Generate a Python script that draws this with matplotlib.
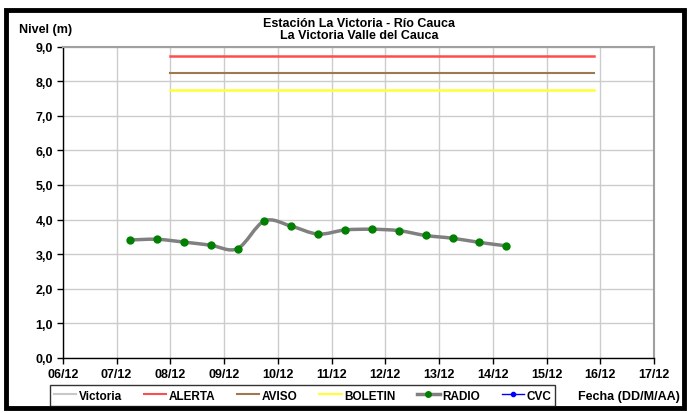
import matplotlib
matplotlib.use("Agg")
import matplotlib.pyplot as plt
import matplotlib.patches as mpatches
from matplotlib.path import Path
from matplotlib.lines import Line2D
import numpy as np

# ─────────────────────────────────────────────
# datos
# ─────────────────────────────────────────────
# dia del mes (diciembre), lecturas de radio 7am / 7pm aprox.
dias_radio = [7.25, 7.75, 8.25, 8.75, 9.25, 9.75, 10.25, 10.75,
              11.25, 11.75, 12.25, 12.75, 13.25, 13.75, 14.25]
nivel_radio = [3.41, 3.43, 3.35, 3.26, 3.16, 3.96, 3.81, 3.58,
               3.70, 3.72, 3.68, 3.54, 3.46, 3.34, 3.24]

umbral_inicio = 8.0
umbral_fin = 15.875
nivel_alerta = 8.72
nivel_aviso = 8.24
nivel_boletin = 7.74

dias_ticks = [6, 7, 8, 9, 10, 11, 12, 13, 14, 15, 16, 17]
etiquetas_x = ["06/12", "07/12", "08/12", "09/12", "10/12", "11/12",
               "12/12", "13/12", "14/12", "15/12", "16/12", "17/12"]
niveles_ticks = [0, 1, 2, 3, 4, 5, 6, 7, 8, 9]
etiquetas_y = ["0,0", "1,0", "2,0", "3,0", "4,0", "5,0", "6,0", "7,0", "8,0", "9,0"]

COL_ALERTA = "#FF4D4D"
COL_AVISO = "#A0784F"
COL_BOLETIN = "#FFFF33"
COL_VICTORIA = "#C8C8C8"
COL_RADIO = "#808080"
COL_MARCA = "#008000"
COL_CVC = "#0000FF"

plt.rcParams['font.family'] = ['Liberation Sans', 'DejaVu Sans']
plt.rcParams['font.weight'] = 'bold'


def curva_suave(x, y):
    # curva tipo Catmull-Rom (linea suavizada de Excel)
    pts = np.column_stack([x, y])
    n = len(pts)
    verts = [pts[0]]
    codes = [Path.MOVETO]
    for i in range(n - 1):
        p0 = pts[i - 1] if i > 0 else pts[i]
        p1 = pts[i]
        p2 = pts[i + 1]
        p3 = pts[i + 2] if i + 2 < n else pts[i + 1]
        c1 = p1 + (p2 - p0) / 6.0
        c2 = p2 - (p3 - p1) / 6.0
        verts += [c1, c2, p2]
        codes += [Path.CURVE4] * 3
    return Path(verts, codes)


fig = plt.figure(figsize=(6.9, 4.14), dpi=100)
fig.patch.set_facecolor('white')

# marco negro exterior
marco = mpatches.Rectangle((0.008, 0.012), 0.983, 0.962, transform=fig.transFigure,
                           fill=False, edgecolor='black', linewidth=3.5)
fig.patches.append(marco)

ax = fig.add_axes([0.091, 0.133, 0.857, 0.752])

ax.set_xlim(6, 17)
ax.set_ylim(0, 9)
ax.set_xticks(dias_ticks)
ax.set_xticklabels(etiquetas_x, fontsize=9, fontweight='bold')
ax.set_yticks(niveles_ticks)
ax.set_yticklabels(etiquetas_y, fontsize=9, fontweight='bold')
ax.grid(True, color='#CCCCCC', linewidth=1.0)
ax.set_axisbelow(True)
ax.tick_params(direction='out', length=4, width=1, colors='black', pad=3)

for lado in ['top', 'right']:
    ax.spines[lado].set_color('#A0A0A0')
    ax.spines[lado].set_linewidth(1.5)
for lado in ['left', 'bottom']:
    ax.spines[lado].set_color('black')
    ax.spines[lado].set_linewidth(1.0)

# umbrales
ax.plot([umbral_inicio, umbral_fin], [nivel_alerta, nivel_alerta], color=COL_ALERTA, lw=1.8)
ax.plot([umbral_inicio, umbral_fin], [nivel_aviso, nivel_aviso], color=COL_AVISO, lw=1.5)
ax.plot([umbral_inicio, umbral_fin], [nivel_boletin, nivel_boletin], color=COL_BOLETIN, lw=1.8)

# serie radio
ax.add_patch(mpatches.PathPatch(curva_suave(dias_radio, nivel_radio), fill=False,
                                edgecolor=COL_RADIO, linewidth=2.5, zorder=3))
ax.plot(dias_radio, nivel_radio, linestyle='none', marker='o', markersize=5,
        color=COL_MARCA, zorder=4)

fig.text(0.52, 0.928, "Estación La Victoria - Río Cauca\nLa Victoria Valle del Cauca",
         ha='center', va='center', fontsize=9, fontweight='bold', linespacing=1.0)
fig.text(0.028, 0.928, "Nivel (m)", ha='left', va='center', fontsize=9, fontweight='bold')
fig.text(0.985, 0.04, "Fecha (DD/M/AA)", ha='right', va='center', fontsize=9, fontweight='bold')

manejadores = [
    Line2D([], [], color=COL_VICTORIA, lw=1.5, label='Victoria'),
    Line2D([], [], color=COL_ALERTA, lw=1.5, label='ALERTA'),
    Line2D([], [], color=COL_AVISO, lw=1.5, label='AVISO'),
    Line2D([], [], color=COL_BOLETIN, lw=1.5, label='BOLETIN'),
    Line2D([], [], color=COL_RADIO, lw=2.5, marker='o', markersize=4,
           markerfacecolor=COL_MARCA, markeredgecolor=COL_MARCA, label='RADIO'),
    Line2D([], [], color=COL_CVC, lw=1.0, marker='o', markersize=3, label='CVC'),
]
leg = fig.legend(handles=manejadores, loc='center left', bbox_to_anchor=(0.072, 0.042),
                 ncol=6, fontsize=8.5, frameon=True, fancybox=False, handlelength=1.9,
                 handletextpad=0.2, columnspacing=1.85, borderpad=0.35, borderaxespad=0)
leg.get_frame().set_edgecolor('black')
leg.get_frame().set_linewidth(1.0)
for t in leg.get_texts():
    t.set_fontweight('bold')

fig.savefig('out.png', dpi=100)
